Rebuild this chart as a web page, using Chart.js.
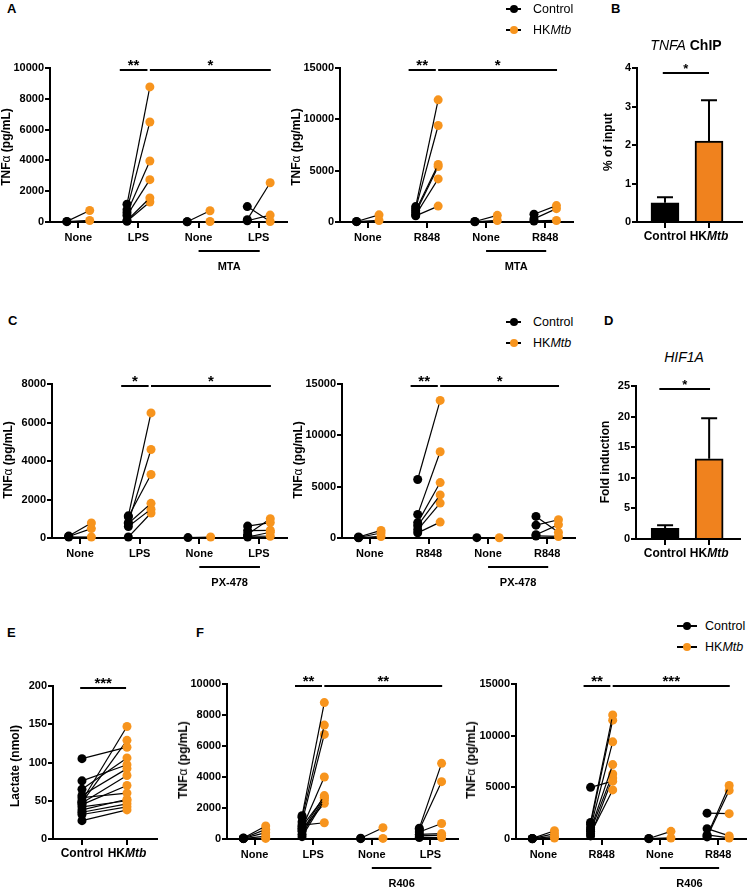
<!DOCTYPE html>
<html>
<head>
<meta charset="utf-8">
<script src="https://cdn.jsdelivr.net/npm/chart.js@4.4.1/dist/chart.umd.min.js"></script>
<style>
  body { margin: 0; background: #fff; }
  #page { position: relative; width: 750px; height: 891px; overflow: hidden; font-family: 'Liberation Sans', Arial, Helvetica, sans-serif; color: #000; }
  canvas { position: absolute; }
  .txt { position: absolute; white-space: nowrap; transform: translate(-50%, -50%); }
  .letter { font-weight: bold; font-size: 13px; transform: none; }
  .ytitle { font-size: 12px; transform: translate(-50%, -50%) rotate(-90deg); }
  .ytitle b { font-weight: bold; }
  .ptitle { font-size: 14px; }
  .lg-line { position: absolute; height: 1.5px; background: #000; }
  .lg-dot { position: absolute; width: 8px; height: 8px; border-radius: 50%; transform: translate(-50%, -50%); }
  .lg-txt { position: absolute; font-size: 12.5px; transform: translateY(-50%); white-space: nowrap; }
</style>
</head>
<body>
<div id="page"></div>
<script>
// ---- data ----
const lpsGroups = ['None', 'LPS', 'None', 'LPS'];
const r848Groups = ['None', 'R848', 'None', 'R848'];

// A: MTA
const aLpsCtrl = [[40, 20], [1150, 800, 600, 430, 100, 50], [20, 10], [1000, 150, 80]];
const aLpsHk   = [[750, 100], [8770, 6490, 3960, 2750, 1560, 1300], [730, 30], [30, 2550, 450]];
const aR848Ctrl = [[50, 30], [1500, 1300, 1100, 900, 700, 600], [50, 20], [750, 300, 100]];
const aR848Hk   = [[700, 150], [11900, 9400, 5600, 5400, 4200, 1550], [650, 150], [1600, 1300, 150]];

// B: TNFA ChIP (mean, SD)
const chipMean = [0.5, 2.1];
const chipErr  = [0.14, 1.06];

// C: PX-478
const cLpsCtrl = [[100, 80, 50], [1150, 800, 1100, 750, 600, 50], [20], [620, 380, 200, 100, 50]];
const cLpsHk   = [[780, 490, 50], [6500, 4600, 3300, 1800, 1500, 1300], [50], [800, 400, 1000, 90, 300]];
const cR848Ctrl = [[100, 50, 20], [5700, 2300, 1500, 1200, 800, 500], [30], [2100, 1250, 320, 200]];
const cR848Hk   = [[740, 490, 150], [13400, 8400, 5400, 4200, 3400, 1550], [20], [550, 1780, 1300, 150]];

// D: HIF1A fold induction (mean, SD)
const hifMean = [1.75, 13.1];
const hifErr  = [0.5, 6.65];

// E: lactate
const lacCtrl = [105, 76, 65, 57, 54, 50, 48, 47, 45, 42, 38, 35, 32, 24];
const lacHk   = [120, 97, 106, 92, 60, 147, 129, 83, 70, 50, 52, 46, 42, 38];

// F: R406
const fLpsCtrl = [[60, 50, 40, 30, 20], [1500, 1400, 1100, 700, 500, 300, 150, 600, 900, 800], [50, 20], [700, 600, 450, 300, 200, 100]];
const fLpsHk   = [[840, 620, 410, 190, 40], [8800, 7350, 6750, 4000, 2800, 2650, 2500, 2300, 1050, 2700], [730, 40], [4880, 3700, 1000, 350, 250, 100]];
const fR848Ctrl = [[60, 40, 30, 20], [5000, 1600, 1400, 1100, 900, 750, 500, 300], [50, 30], [2500, 1000, 300, 200, 400]];
const fR848Hk   = [[800, 520, 260, 100], [5600, 12000, 11500, 9400, 7200, 6300, 4750, 5900], [740, 100], [2450, 300, 5180, 4700, 100]];

const ctrlHkLabels = [[['Control', 'bold']], [['HK', 'bold'], ['Mtb', 'italic bold']]];

// ---- style ----
const FONT = "'Liberation Sans', Arial, Helvetica, sans-serif";
const ORANGE = '#F7941D';
const BAR_ORANGE = '#F0821E';
const Y_W = 42;   // fixed y-scale box width
const X_H = 24;   // fixed x-scale box height
Chart.defaults.font.family = FONT;
Chart.defaults.color = '#000';

const page = document.getElementById('page');

function makeCanvas(box) {
    const c = document.createElement('canvas');
    c.width = box.w; c.height = box.h;
    c.style.left = box.l + 'px'; c.style.top = box.t + 'px';
    c.style.width = box.w + 'px'; c.style.height = box.h + 'px';
    page.appendChild(c);
    return c;
}

function padFor(box, area) {
    return {
        left: area.l - box.l - Y_W, top: area.t - box.t,
        right: box.l + box.w - area.r, bottom: box.t + box.h - area.b - X_H
    };
}

function scalesFor(xMin, xMax, xTicks, xLabels, yMax, yStep) {
    return {
        x: {
            type: 'linear', min: xMin, max: xMax, offset: false,
            grid: { drawOnChartArea: false, color: '#000', lineWidth: 2, tickLength: 6, offset: false },
            border: { color: '#000', width: 2 },
            afterFit: s => { s.height = X_H; },
            afterBuildTicks: s => { s.ticks = xTicks.map(v => ({ value: v })); },
            ticks: {
                display: !!xLabels, autoSkip: false, maxRotation: 0, padding: 3,
                font: { size: 11, weight: 'bold' },
                callback: v => xLabels ? xLabels[xTicks.indexOf(v)] : ''
            }
        },
        y: {
            min: 0, max: yMax,
            grid: { drawOnChartArea: false, color: '#000', lineWidth: 2, tickLength: 5 },
            border: { color: '#000', width: 2 },
            afterFit: s => { s.width = Y_W; },
            ticks: { stepSize: yStep, padding: 1, font: { size: 11, weight: 'bold' }, callback: v => String(v) }
        }
    };
}

// significance bars drawn just under the top of the y axis
function sigPlugin(bars, dy, size) {
    return {
        id: 'sig',
        afterDraw(chart) {
            const { ctx, chartArea, scales: { x } } = chart;
            const y = chartArea.top + dy;
            ctx.save();
            ctx.strokeStyle = '#000'; ctx.fillStyle = '#000'; ctx.lineWidth = 2;
            ctx.font = `bold ${size}px ${FONT}`;
            ctx.textAlign = 'center'; ctx.textBaseline = 'alphabetic';
            bars.forEach(([a, b, t]) => {
                const x0 = x.getPixelForValue(a), x1 = x.getPixelForValue(b);
                ctx.beginPath(); ctx.moveTo(x0, y); ctx.lineTo(x1, y); ctx.stroke();
                ctx.fillText(t, (x0 + x1) / 2, y);
            });
            ctx.restore();
        }
    };
}

// underline + inhibitor name below groups 3-4
function groupPlugin(label) {
    return {
        id: 'grp',
        afterDraw(chart) {
            const { ctx, chartArea, scales: { x } } = chart;
            const y = chartArea.bottom + 29;
            const x0 = x.getPixelForValue(3), x1 = x.getPixelForValue(4) + 1;
            ctx.save();
            ctx.strokeStyle = '#000'; ctx.lineWidth = 2;
            ctx.beginPath(); ctx.moveTo(x0, y); ctx.lineTo(x1, y); ctx.stroke();
            ctx.fillStyle = '#000';
            ctx.font = `bold 11px ${FONT}`;
            ctx.textAlign = 'center'; ctx.textBaseline = 'middle';
            ctx.fillText(label, (x0 + x1) / 2, chartArea.bottom + 45);
            ctx.restore();
        }
    };
}

function drawRich(ctx, parts, cx, cy, size) {
    const widths = parts.map(([t, f]) => { ctx.font = `${f} ${size}px ${FONT}`; return ctx.measureText(t).width; });
    let x = cx - widths.reduce((a, b) => a + b, 0) / 2;
    parts.forEach(([t, f], i) => { ctx.font = `${f} ${size}px ${FONT}`; ctx.fillText(t, x, cy); x += widths[i]; });
}

function richPlugin(labels, dy) {
    return {
        id: 'rich',
        afterDraw(chart) {
            const { ctx, chartArea, scales: { x } } = chart;
            ctx.save();
            ctx.fillStyle = '#000'; ctx.textAlign = 'left'; ctx.textBaseline = 'middle';
            labels.forEach((parts, i) => drawRich(ctx, parts, x.getPixelForValue(i + 1), chartArea.bottom + dy, 12));
            ctx.restore();
        }
    };
}

const errorBars = {
    id: 'errorBars',
    afterDatasetsDraw(chart) {
        const { ctx, scales: { x, y } } = chart;
        ctx.save();
        ctx.strokeStyle = '#000'; ctx.lineWidth = 2;
        chart.data.datasets.forEach(d => {
            if (!d.err) return;
            d.data.forEach((p, k) => {
                const px = x.getPixelForValue(p.x);
                const y0 = y.getPixelForValue(p.y), y1 = y.getPixelForValue(p.y + d.err[k]);
                ctx.beginPath();
                ctx.moveTo(px, y0); ctx.lineTo(px, y1);
                ctx.moveTo(px - 8, y1); ctx.lineTo(px + 8, y1);
                ctx.stroke();
            });
        });
        ctx.restore();
    }
};

// one dataset per donor: control point (left) joined to HKMtb point (right)
function pairSets(ctrl, hk, off, base = 1) {
    const sets = [];
    ctrl.forEach((grp, gi) => grp.forEach((c, k) => {
        sets.push({
            data: [{ x: gi + base - off, y: c }, { x: gi + base + off, y: hk[gi][k] }],
            showLine: true, borderColor: '#000', borderWidth: 1.2,
            pointRadius: 4.5, pointBorderWidth: 0,
            pointBackgroundColor: ['#000', ORANGE],
            clip: false
        });
    }));
    return sets;
}

function baseOptions(box, area, scales) {
    return {
        responsive: false, animation: false, events: [],
        layout: { padding: padFor(box, area) },
        plugins: { legend: { display: false }, tooltip: { enabled: false } },
        scales
    };
}

function pairChart(box, area, cats, ctrl, hk, yMax, yStep, sig, inhibitor) {
    new Chart(makeCanvas(box), {
        type: 'scatter',
        data: { datasets: pairSets(ctrl, hk, 0.19) },
        options: baseOptions(box, area, scalesFor(0.53, 4.47, [1, 2, 3, 4], cats, yMax, yStep)),
        plugins: [sigPlugin([[1.69, 2.15, sig[0]], [2.19, 4.2, sig[1]]], 2, 15), groupPlugin(inhibitor)]
    });
}

function barChart(box, area, xMin, xMax, mean, err, yMax, yStep, sigRange) {
    new Chart(makeCanvas(box), {
        type: 'bar',
        data: {
            datasets: [{
                data: mean.map((m, i) => ({ x: i + 1, y: m })),
                err,
                backgroundColor: ['#000', BAR_ORANGE], borderColor: '#000', borderWidth: 2,
                barThickness: 28
            }]
        },
        options: baseOptions(box, area, scalesFor(xMin, xMax, [1, 2], null, yMax, yStep)),
        plugins: [errorBars, sigPlugin([[sigRange[0], sigRange[1], '*']], sigRange[2], 13), richPlugin(ctrlHkLabels, 15)]
    });
}

// ---- panels ----
pairChart({ l: 0, t: 40, w: 292, h: 250 }, { l: 50, t: 68, r: 287, b: 222 }, lpsGroups, aLpsCtrl, aLpsHk, 10000, 2000, ['**', '*'], 'MTA');
pairChart({ l: 292, t: 40, w: 290, h: 250 }, { l: 340, t: 68, r: 573, b: 222 }, r848Groups, aR848Ctrl, aR848Hk, 15000, 5000, ['**', '*'], 'MTA');
barChart({ l: 590, t: 50, w: 160, h: 200 }, { l: 637, t: 68, r: 742, b: 222 }, 0.364, 2.75, chipMean, chipErr, 4, 1, [0.95, 2.0, 5]);

pairChart({ l: 0, t: 360, w: 292, h: 240 }, { l: 52, t: 384, r: 287, b: 538 }, lpsGroups, cLpsCtrl, cLpsHk, 8000, 2000, ['*', '*'], 'PX-478');
pairChart({ l: 292, t: 360, w: 290, h: 240 }, { l: 342, t: 384, r: 575, b: 538 }, r848Groups, cR848Ctrl, cR848Hk, 15000, 5000, ['**', '*'], 'PX-478');
barChart({ l: 590, t: 370, w: 160, h: 200 }, { l: 636, t: 386, r: 740, b: 539 }, 0.34, 2.70, hifMean, hifErr, 25, 5, [0.87, 2.02, 3]);

// E: paired lactate, control at x=1, HKMtb at x=2
(function () {
    const box = { l: 0, t: 660, w: 170, h: 210 }, area = { l: 53, t: 686, r: 157, b: 839 };
    new Chart(makeCanvas(box), {
        type: 'scatter',
        data: { datasets: pairSets([lacCtrl], [lacHk], 0.5, 1.5) },
        options: baseOptions(box, area, scalesFor(0.356, 2.667, [1, 2], null, 200, 50)),
        plugins: [sigPlugin([[0.96, 1.98, '***']], 2, 15), richPlugin(ctrlHkLabels, 15)]
    });
})();

pairChart({ l: 170, t: 660, w: 300, h: 231 }, { l: 227, t: 684, r: 458, b: 839 }, lpsGroups, fLpsCtrl, fLpsHk, 10000, 2000, ['**', '**'], 'R406');
pairChart({ l: 470, t: 660, w: 280, h: 231 }, { l: 516, t: 684, r: 747, b: 839 }, r848Groups, fR848Ctrl, fR848Hk, 15000, 5000, ['**', '***'], 'R406');

// ---- html text: letters, titles, axis titles, legends ----
function addText(cls, x, y, html) {
    const d = document.createElement('div');
    d.className = 'txt ' + cls;
    d.style.left = x + 'px'; d.style.top = y + 'px';
    d.innerHTML = html;
    page.appendChild(d);
}

[['A', 7, 1], ['B', 611, 1], ['C', 8, 313], ['D', 604, 313], ['E', 7, 625], ['F', 196, 625]]
    .forEach(([t, x, y]) => addText('letter', x, y, t));

addText('ptitle', 686, 45, '<i>TNFA</i> <b>ChIP</b>');
addText('ptitle', 684, 357, '<i>HIF1A</i>');

const tnfTitle = '<b>TNF</b>α<b> (pg/mL)</b>';
[[6, 147], [296, 147], [8, 460], [298, 460], [183, 760], [471, 760]]
    .forEach(([x, y]) => addText('ytitle', x, y, tnfTitle));
addText('ytitle', 608, 142, '<b>% of input</b>');
addText('ytitle', 605, 462, '<b>Fold induction</b>');
addText('ytitle', 15, 766, '<b>Lactate (nmol)</b>');

function addLegend(x0, x1, y0, textX) {
    [['#000', 'Control', 0], [ORANGE, 'HK<i>Mtb</i>', 21]].forEach(([col, html, dy]) => {
        const y = y0 + dy;
        const ln = document.createElement('div');
        ln.className = 'lg-line';
        ln.style.left = x0 + 'px'; ln.style.top = (y - 0.75) + 'px'; ln.style.width = (x1 - x0) + 'px';
        page.appendChild(ln);
        const dot = document.createElement('div');
        dot.className = 'lg-dot';
        dot.style.left = ((x0 + x1) / 2) + 'px'; dot.style.top = y + 'px'; dot.style.background = col;
        page.appendChild(dot);
        const t = document.createElement('div');
        t.className = 'lg-txt';
        t.style.left = textX + 'px'; t.style.top = y + 'px';
        t.innerHTML = html;
        page.appendChild(t);
    });
}
addLegend(506, 521, 9, 533);
addLegend(506, 521, 322, 533);
addLegend(677, 697, 626, 705);
</script>
</body>
</html>
